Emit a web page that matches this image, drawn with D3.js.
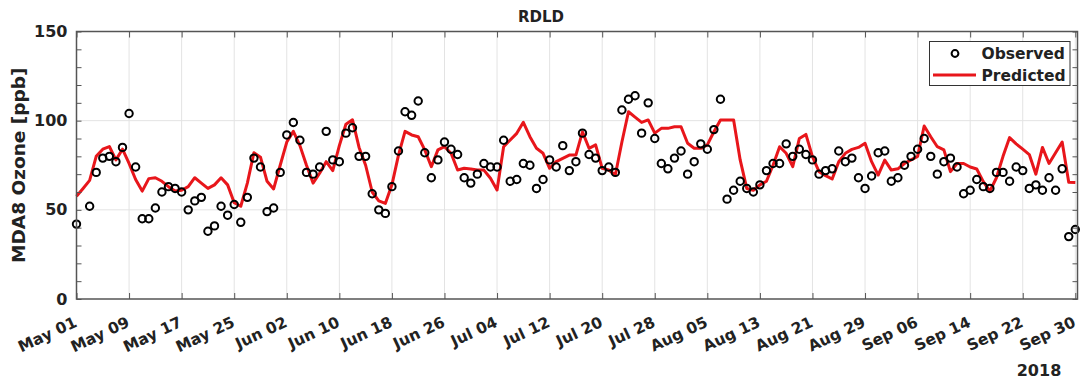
<!DOCTYPE html>
<html><head><meta charset="utf-8">
<script src="https://cdn.jsdelivr.net/npm/d3@7"></script>
<style>
body{margin:0;background:#fff}
svg{display:block}
text{font-family:"DejaVu Sans",sans-serif;font-weight:bold;fill:#222}
</style>
</head><body>
<svg id="c" width="1084" height="381"></svg>
<script>
// ---- data ----
const startDate = "2018-05-01";
const endDate = "2018-09-30";
const observed = [
 42, null, 52, 71, 79, 80, 77, 85, 104, 74,
 45, 45, 51, 60, 63, 62, 60, 50, 55, 57,
 38, 41, 52, 47, 53, 43, 57, 79, 74, 49,
 51, 71, 92, 99, 89, 71, 70, 74, 94, 78,
 77, 93, 96, 80, 80, 59, 50, 48, 63, 83,
 105, 103, 111, 82, 68, 78, 88, 84, 81, 68,
 65, 70, 76, 74, 74, 89, 66, 67, 76, 75,
 62, 67, 78, 74, 86, 72, 77, 93, 81, 79,
 72, 74, 71, 106, 112, 114, 93, 110, 90, 76,
 73, 79, 83, 70, 77, 87, 84, 95, 112, 56,
 61, 66, 62, 60, 64, 72, 76, 76, 87, 80,
 84, 81, 78, 70, 72, 73, 83, 77, 79, 68,
 62, 69, 82, 83, 66, 68, 75, 80, 84, 90,
 80, 70, 77, 79, 74, 59, 61, 67, 63, 62,
 71, 71, 66, 74, 72, 62, 64, 61, 68, 61,
 73, 35, 39];
const predicted = [
 57.6, 62, 66.5, 80, 84, 85.5, 78, 84, 76, 67,
 60.5, 67.5, 68, 66, 63, 60.5, 61, 63, 68, 65,
 62, 64, 68, 64, 54, 52, 65, 82, 79.5, 66,
 61.7, 75, 88, 94, 86, 75, 65, 70.5, 77, 72,
 86, 98, 100.5, 85, 75, 60, 55, 53.6, 64, 80.7,
 94, 92, 91, 83.6, 74.2, 83.6, 85.4, 81.7, 72.3, 73.3,
 72.9, 72.3, 72.3, 67.7, 61.1, 85.4, 89.2, 92.9, 99.1, 91,
 84.5, 81.7, 73.3, 77, 78.9, 80.7, 80.7, 93.7, 84.5, 86.4,
 73.3, 72.3, 69.5, 88, 105, 102, 99, 100.4, 93, 95.7,
 95.7, 96.6, 96.6, 87.3, 84.5, 84.5, 86.4, 93.8, 100.4, 100.4,
 100.4, 78, 62, 61, 64, 66, 75, 85.4, 81.7, 74.2,
 90, 92.3, 79.8, 71.4, 69.2, 67.3, 77, 81.7, 83.9, 85,
 87.3, 77, 69.5, 77.9, 72.3, 73, 76, 78, 80, 97,
 91, 85.4, 83.6, 71.4, 76, 76, 74, 72.9, 65.8, 60.5,
 68, 80, 90.5, 87, 84, 81, 70, 85, 76, 82,
 88, 65.5, 65.3];
const xTickDates = ["2018-05-01","2018-05-09","2018-05-17","2018-05-25","2018-06-02",
 "2018-06-10","2018-06-18","2018-06-26","2018-07-04","2018-07-12","2018-07-20",
 "2018-07-28","2018-08-05","2018-08-13","2018-08-21","2018-08-29","2018-09-06",
 "2018-09-14","2018-09-22","2018-09-30"];
const yTicks = [0, 50, 100, 150];
const yMinorTicks = [10,20,30,40,60,70,80,90,110,120,130,140];
const seriesNames = ["Observed", "Predicted"];
const titleText = "RDLD";
const yLabel = "MDA8 Ozone [ppb]";
const yearLabel = "2018";

// ---- layout ----
const svg = d3.select("#c");
const L = 76.5, R = 1077.5, T = 31.5, B = 299;
const parse = d3.utcParse("%Y-%m-%d");
const dates = observed.map((_, i) => d3.utcDay.offset(parse(startDate), i));
const x = d3.scaleUtc()
  .domain([parse(startDate), d3.utcHour.offset(parse(endDate), 8)])
  .range([L, R]);
const y = d3.scaleLinear().domain([0, 150]).range([B, T]);
const axisCol = "#555";
const red = "#e8161b";

// grid
const g = svg.append("g");
g.selectAll("line.vg").data(xTickDates.map(parse)).join("line")
  .attr("x1", d => x(d)).attr("x2", d => x(d)).attr("y1", T).attr("y2", B)
  .attr("stroke", "#e3e3e3").attr("stroke-width", 1);
g.selectAll("line.hg").data([50, 100]).join("line")
  .attr("x1", L).attr("x2", R).attr("y1", d => y(d)).attr("y2", d => y(d))
  .attr("stroke", "#e3e3e3").attr("stroke-width", 1);

// predicted line
svg.append("path")
  .datum(predicted.map((v, i) => [dates[i], v]))
  .attr("fill", "none").attr("stroke", red).attr("stroke-width", 3)
  .attr("stroke-linejoin", "round")
  .attr("d", d3.line().defined(d => d[1] != null).x(d => x(d[0])).y(d => y(d[1])));

// observed markers
svg.append("g").selectAll("circle")
  .data(observed.map((v, i) => [dates[i], v]).filter(d => d[1] != null))
  .join("circle")
  .attr("cx", d => x(d[0])).attr("cy", d => y(d[1])).attr("r", 3.7)
  .attr("fill", "none").attr("stroke", "#000").attr("stroke-width", 2);

// axes
const xb = d3.axisBottom(x).tickValues(xTickDates.map(parse))
  .tickFormat(d3.utcFormat("%b %d")).tickSizeInner(-6).tickSizeOuter(0);
const xa = svg.append("g").attr("transform", `translate(0,${B})`).call(xb);
xa.select(".domain").remove();
xa.selectAll(".tick line").attr("stroke", axisCol);
xa.selectAll(".tick text")
  .attr("y", 0).attr("dy", 0)
  .attr("text-anchor", "end")
  .attr("transform", "translate(1,27) rotate(-25)")
  .style("font-size", "15.5px").style("font-family", "DejaVu Sans").style("font-weight", "bold").attr("fill", "#222");

const xt = d3.axisTop(x).tickValues(xTickDates.map(parse)).tickFormat("").tickSizeInner(-6).tickSizeOuter(0);
const xta = svg.append("g").attr("transform", `translate(0,${T})`).call(xt);
xta.select(".domain").remove();
xta.selectAll(".tick line").attr("stroke", axisCol);

const yl = d3.axisLeft(y).tickValues(yTicks).tickSizeInner(-5).tickSizeOuter(0).tickPadding(9);
const yla = svg.append("g").attr("transform", `translate(${L},0)`).call(yl);
yla.select(".domain").remove();
yla.selectAll(".tick line").attr("stroke", axisCol);
yla.selectAll(".tick text").style("font-size", "16px").style("font-family", "DejaVu Sans").style("font-weight", "bold").attr("fill", "#222");
const ylm = d3.axisLeft(y).tickValues(yMinorTicks).tickFormat("").tickSizeInner(-5).tickSizeOuter(0);
const ylma = svg.append("g").attr("transform", `translate(${L},0)`).call(ylm);
ylma.select(".domain").remove();
ylma.selectAll(".tick line").attr("stroke", axisCol);

const yr = d3.axisRight(y).tickValues(yTicks.concat(yMinorTicks)).tickFormat("").tickSizeInner(-5).tickSizeOuter(0);
const yra = svg.append("g").attr("transform", `translate(${R},0)`).call(yr);
yra.select(".domain").remove();
yra.selectAll(".tick line").attr("stroke", axisCol);

// box
svg.append("rect").attr("x", L).attr("y", T).attr("width", R - L).attr("height", B - T)
  .attr("fill", "none").attr("stroke", axisCol).attr("stroke-width", 1.5);

// title & labels
svg.append("text").attr("x", 541).attr("y", 22).attr("text-anchor", "middle")
  .style("font-size", "15px").text(titleText);
svg.append("text").attr("transform", `translate(25,${(T + B) / 2}) rotate(-90)`)
  .attr("text-anchor", "middle").style("font-size", "18.5px").text(yLabel);
svg.append("text").attr("x", 1039).attr("y", 376).attr("text-anchor", "middle")
  .style("font-size", "16px").text(yearLabel);

// legend
const lg = svg.append("g");
lg.append("rect").attr("x", 929.5).attr("y", 41.5).attr("width", 140.5).attr("height", 44)
  .attr("fill", "#fff").attr("stroke", "#333").attr("stroke-width", 1);
lg.append("circle").attr("cx", 955).attr("cy", 53.5).attr("r", 3.4)
  .attr("fill", "none").attr("stroke", "#000").attr("stroke-width", 2);
lg.append("line").attr("x1", 933).attr("x2", 976).attr("y1", 75).attr("y2", 75)
  .attr("stroke", red).attr("stroke-width", 3);
lg.append("text").attr("x", 981.5).attr("y", 59).style("font-size", "15.5px").text(seriesNames[0]);
lg.append("text").attr("x", 981.5).attr("y", 81).style("font-size", "15.5px").text(seriesNames[1]);
</script>
</body></html>
